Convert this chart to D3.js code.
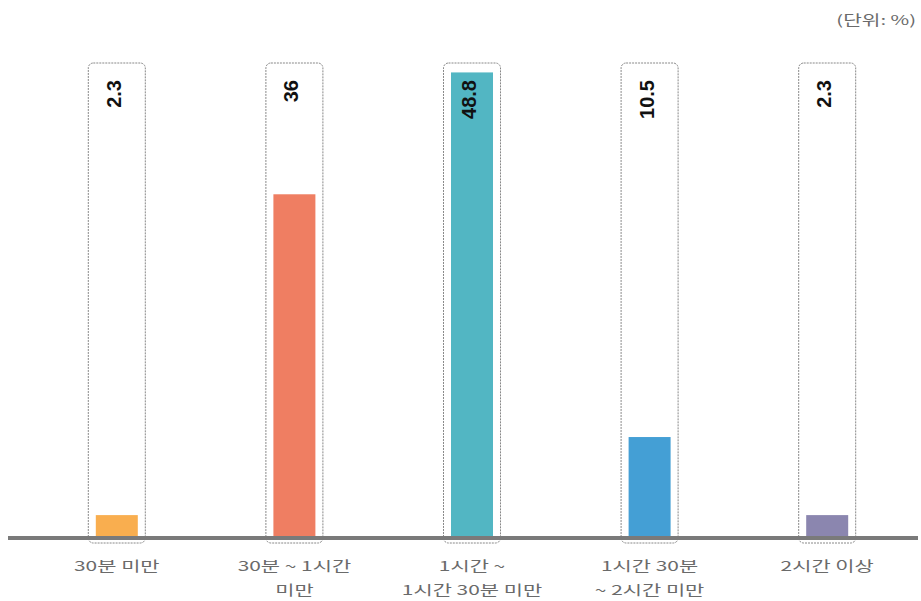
<!DOCTYPE html>
<html><head><meta charset="utf-8">
<script src="https://cdn.jsdelivr.net/npm/d3@7"></script>
<style>body{margin:0;background:#fff;}svg{display:block;}</style>
</head><body>
<svg id="c" width="921" height="601"></svg>
<script>
const categories = [["30분 미만"], ["30분 ~ 1시간", "미만"], ["1시간 ~", "1시간 30분 미만"], ["1시간 30분", "~ 2시간 미만"], ["2시간 이상"]];
const values = [2.3, 36, 48.8, 10.5, 2.3];
const valueLabels = ["2.3", "36", "48.8", "10.5", "2.3"];
const colors = ["#F9AE4F", "#EF7E62", "#52B6C3", "#449FD5", "#8B86AF"];
const unitLabel = "(단위: %)";

const svg = d3.select("#c");
const font = "'Noto Sans CJK KR', 'Noto Sans', sans-serif";
const x = d3.scaleBand().domain(d3.range(values.length)).range([28, 916]).paddingInner(0.68).paddingOuter(0.34);
const y = d3.scaleLinear().domain([0, 50]).range([537, 61]);

const g = svg.append("g");
g.selectAll("rect.box").data(values).join("rect")
  .attr("x", (d,i) => x(i) + x.bandwidth()/2 - 28.5)
  .attr("y", y(50) + 2)
  .attr("width", 57)
  .attr("height", y(0) - y(50) + 4)
  .attr("rx", 5)
  .attr("fill", "#fff")
  .attr("stroke", "#888")
  .attr("stroke-width", 1)
  .attr("stroke-dasharray", "2,1");
g.selectAll("rect.bar").data(values).join("rect")
  .attr("x", (d,i) => x(i) + x.bandwidth()/2 - 21)
  .attr("y", d => y(d))
  .attr("width", 42)
  .attr("height", d => y(0) - y(d))
  .attr("fill", (d,i) => colors[i]);
svg.append("line").attr("x1", 8).attr("x2", 918).attr("y1", 538).attr("y2", 538)
  .attr("stroke", "#7a7a7a").attr("stroke-width", 4);
g.selectAll("text.val").data(valueLabels).join("text")
  .attr("transform", (d,i) => `translate(${x(i) + x.bandwidth()/2 + 4},80) rotate(-90)`)
  .attr("text-anchor", "end")
  .attr("font-family", "Arial, 'Liberation Sans', sans-serif")
  .attr("font-weight", "bold")
  .attr("font-size", 20)
  .attr("fill", "#111")
  .text(d => d);
categories.forEach((lines, i) => {
  lines.forEach((l, j) => {
    svg.append("text")
      .attr("transform", `translate(${x(i) + x.bandwidth()/2},${571 + j * 24}) scale(1.55,1)`)
      .attr("text-anchor", "middle")
      .attr("font-family", font)
      .attr("font-size", 13.5)
      .attr("fill", "#6a6a6a")
      .text(l);
  });
});
svg.append("text").attr("transform", "translate(916,25) scale(1.5,1)").attr("text-anchor", "end")
  .attr("font-family", font).attr("font-size", 13.5).attr("fill", "#6a6a6a").text(unitLabel);
</script>
</body></html>
